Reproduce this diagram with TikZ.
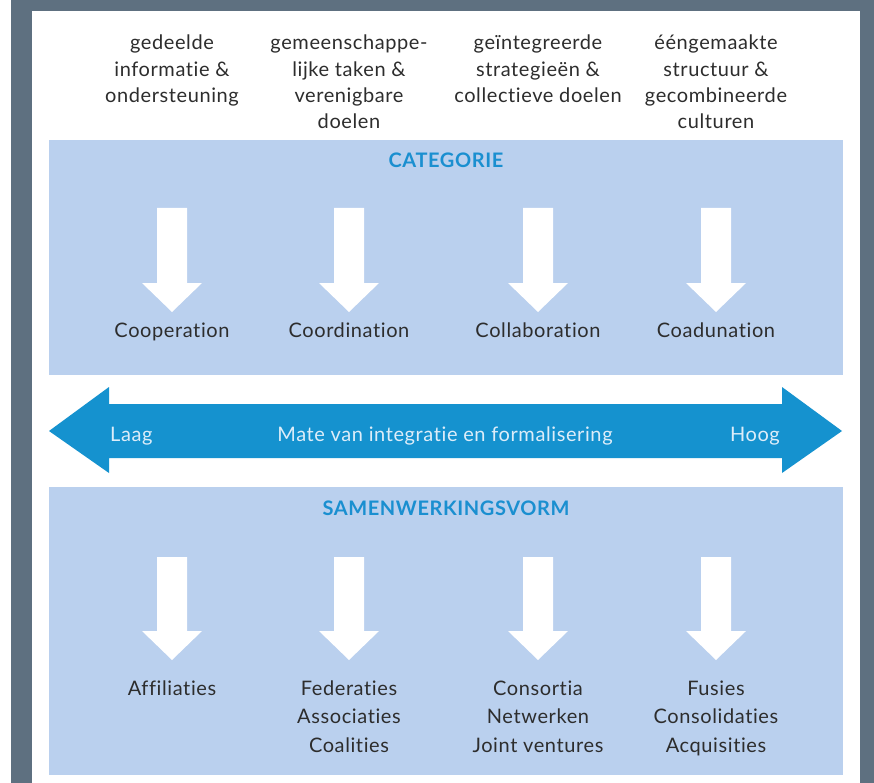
\documentclass[tikz,border=0pt]{standalone}
\usepackage{fontspec}
\setmainfont{Lato}[Ligatures=NoCommon,LetterSpace=3]
\usetikzlibrary{positioning}

\definecolor{framegray}{RGB}{94,112,128}
\definecolor{panelblue}{RGB}{186,208,238}
\definecolor{arrowblue}{RGB}{21,146,207}
\definecolor{titleblue}{RGB}{26,143,208}
\definecolor{textgray}{RGB}{45,45,45}
\definecolor{arrowtext}{RGB}{221,237,249}

\begin{document}
\begin{tikzpicture}[x=1pt,y=-1pt,
  % multi-line nodes sit on the baseline of their last line
  txt/.style={text=textgray,font=\fontsize{20}{26.3}\selectfont,align=center,anchor=base},
  lbl/.style={text=textgray,font=\fontsize{20}{28.5}\selectfont,align=center,anchor=base},
  paneltitle/.style={text=titleblue,font=\fontsize{20}{22}\selectfont\bfseries,anchor=base},
  ontrack/.style={text=arrowtext,font=\fontsize{20}{22}\selectfont,inner sep=0pt}]
  \useasboundingbox (0,0) rectangle (874,783);
  % frame and page
  \fill[white] (0,0) rectangle (874,783);
  \fill[framegray] (11,0) rectangle (874,783);
  \fill[white] (32,11) rectangle (860,783);

  % column headings
  \node[txt] (head1) at (172,102.6) {gedeelde\\informatie \&\\ondersteuning};
  \node[txt] (head2) at (349,128.9) {gemeenschappe-\\lijke taken \&\\verenigbare\\doelen};
  \node[txt] (head3) at (538,102.6) {geïntegreerde\\strategieën \&\\collectieve doelen};
  \node[txt] (head4) at (716,128.9) {ééngemaakte\\structuur \&\\gecombineerde\\culturen};

  % categorie panel
  \fill[panelblue] (49,140) rectangle (843,375);
  \node[paneltitle] (cat) at (446,168) {CATEGORIE};
  \foreach \x/\name/\txt in {172/coop/Cooperation,349/coord/Coordination,
                             538/collab/Collaboration,716/coad/Coadunation}{
    \fill[white] (\x-15,208) -- (\x+15,208) -- (\x+15,283) -- (\x+30,283)
      -- (\x,312) -- (\x-30,283) -- (\x-15,283) -- cycle;
    \node[lbl] (\name) at (\x,337) {\txt};
  }

  % integration scale
  \fill[arrowblue] (49,431) -- (109,387) -- (109,404) -- (782,404) -- (782,387)
    -- (842,431) -- (782,473) -- (782,458) -- (109,458) -- (109,473) -- cycle;
  \node[ontrack,anchor=base west] (laag) at (110,441) {Laag};
  \node[ontrack,anchor=base] (mate) at (445,441) {Mate van integratie en formalisering};
  \node[ontrack,anchor=base east] (hoog) at (780,441) {Hoog};

  % samenwerkingsvorm panel
  \fill[panelblue] (49,487) rectangle (843,775);
  \node[paneltitle] (vorm) at (446,515) {SAMENWERKINGSVORM};
  \foreach \x/\name/\txt/\y in {172/aff/{Affiliaties}/695,
                                349/fed/{Federaties\\Associaties\\Coalities}/752,
                                538/cons/{Consortia\\Netwerken\\Joint ventures}/752,
                                716/fus/{Fusies\\Consolidaties\\Acquisities}/752}{
    \fill[white] (\x-15,557) -- (\x+15,557) -- (\x+15,631) -- (\x+30,631)
      -- (\x,660) -- (\x-30,631) -- (\x-15,631) -- cycle;
    \node[lbl] (\name) at (\x,\y) {\txt};
  }
\end{tikzpicture}
\end{document}
